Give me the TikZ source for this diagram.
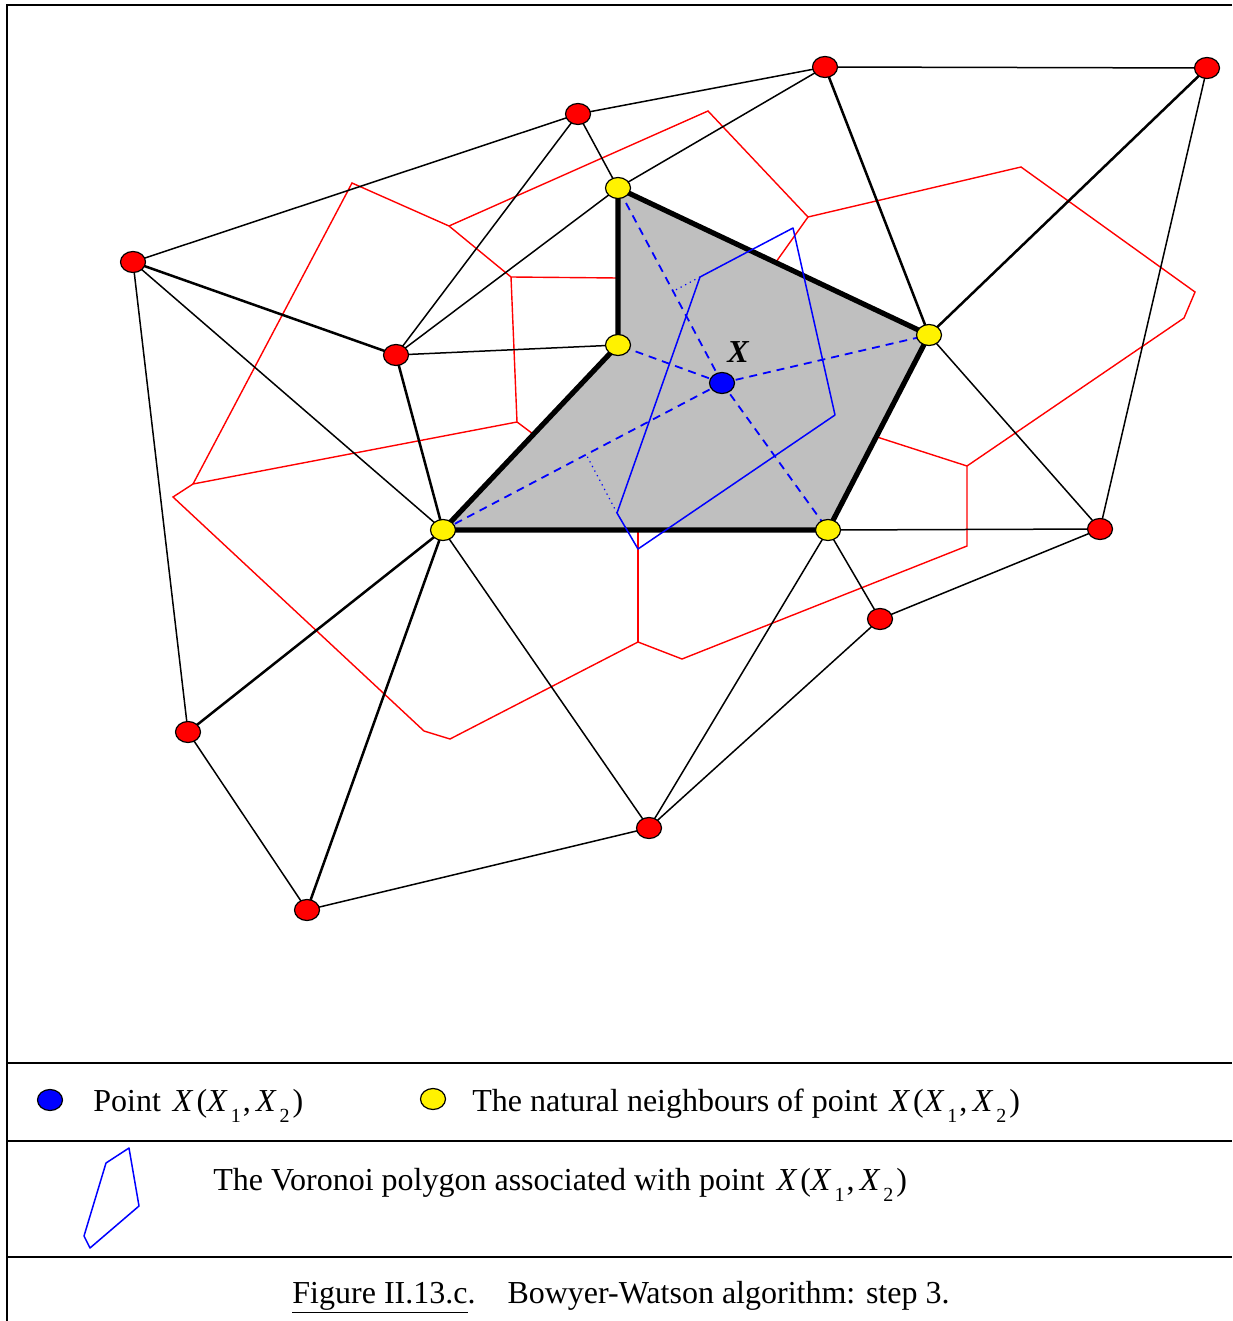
\documentclass[tikz,border=0pt]{standalone}
\usepackage{fontspec}
\setmainfont{Liberation Serif}
\usepackage{tikz}
\usetikzlibrary{shapes.geometric, calc}

\newcommand{\lowix}[1]{\raisebox{-0.35em}{\fontsize{10}{10}\selectfont #1}}
\newcommand{\ptX}{\kern2pt\textit{X}\kern1.5pt(\textit{X}\kern1.5pt\lowix{1}\kern1pt,\,\textit{X}\kern1.5pt\lowix{2}\kern1.5pt)}

\begin{document}
\begin{tikzpicture}[x=0.5pt, y=-0.5pt,
  site/.style={ellipse, draw=black, line width=0.6pt, minimum width=12.5pt, minimum height=10.5pt, inner sep=0pt},
  oldsite/.style={site, fill=red},
  neighbour/.style={site, fill=yellow},
  newsite/.style={site, fill=blue},
  edge/.style={line width=0.75pt},
  mainedge/.style={line width=1.25pt},
  cavity/.style={line width=2.6pt, line join=round},
  voronoi/.style={red, line width=0.7pt},
  cell/.style={blue, line width=0.75pt, line join=round},
  link/.style={blue, line width=0.9pt, dash pattern=on 4pt off 3pt},
  foot/.style={blue, line width=0.6pt, dotted},
  legend/.style={anchor=base west, inner sep=0pt, font=\fontsize{16}{19}\selectfont}]
  \useasboundingbox (0,0) rectangle (1232,1321);

  % Frame and legend rows
  \draw[line width=1pt] (1232,5) -- (7,5) -- (7,1321);
  \draw[line width=1pt] (7,1063) -- (1232,1063);
  \draw[line width=1pt] (7,1141) -- (1232,1141);
  \draw[line width=1pt] (7,1257) -- (1232,1257);

  % Sites
  \coordinate (r1) at (825,67);
  \coordinate (r2) at (1207,68);
  \coordinate (r3) at (578,114);
  \coordinate (r4) at (133,262);
  \coordinate (r5) at (396,355);
  \coordinate (r6) at (1100,529);
  \coordinate (r7) at (880,619);
  \coordinate (r8) at (188,732);
  \coordinate (r9) at (649,828);
  \coordinate (r10) at (307,910);
  \coordinate (y1) at (618,188);
  \coordinate (y2) at (618,345);
  \coordinate (y3) at (929,335);
  \coordinate (y4) at (443,530);
  \coordinate (y5) at (828,530);
  \coordinate (xp) at (722,383);

  % Voronoi vertices
  \coordinate (v1) at (352,183);
  \coordinate (v2) at (449,226);
  \coordinate (v3) at (511,277);
  \coordinate (v4) at (517,422);
  \coordinate (v5) at (193,484);
  \coordinate (v6) at (173,497);
  \coordinate (v7) at (424,731);
  \coordinate (v8) at (450,739);
  \coordinate (v9) at (638,642);
  \coordinate (v10) at (682,659);
  \coordinate (v11) at (967,546);
  \coordinate (v12) at (967,466);
  \coordinate (v13) at (1184,318);
  \coordinate (v14) at (1195,292);
  \coordinate (v15) at (1021,167);
  \coordinate (v16) at (808,217);
  \coordinate (v17) at (708,111);
  \coordinate (e1) at (618,278);
  \coordinate (e2) at (533,434);
  \coordinate (e3) at (638,531);
  \coordinate (e4) at (877,437);
  \coordinate (e5) at (776,262);

  % Cell of X
  \coordinate (c1) at (700,277);
  \coordinate (c2) at (793,228);
  \coordinate (c3) at (835,415);
  \coordinate (c4) at (638,549);
  \coordinate (c5) at (617,513);

  % Cavity
  \fill[black!25] (y1) -- (y3) -- (y5) -- (y4) -- (y2) -- cycle;

  % Old Voronoi diagram
  \draw[voronoi] (e1) -- (v3) -- (v2) -- (v1) -- (v5) -- (v4) -- (v3);
  \draw[voronoi] (v4) -- (e2);
  \draw[voronoi] (v5) -- (v6) -- (v7) -- (v8) -- (v9) -- (v10) -- (v11) -- (v12)
    -- (v13) -- (v14) -- (v15) -- (v16) -- (v17) -- (v2);
  \draw[voronoi] (v9) -- (e3);
  \draw[voronoi] (v12) -- (e4);
  \draw[voronoi] (v16) -- (e5);

  % Triangulation
  \foreach \a/\b in {r3/r1, r1/r2, r4/r3, r3/y1, r3/r5, r1/y1, r2/r6, r4/y4, r4/r8,
      r5/y1, r5/y2, y3/r6, y5/r6, y5/r7, r7/r6, r7/r9, y5/r9, y4/r9, r8/r10, r10/r9}
    \draw[edge] (\a) -- (\b);
  \foreach \a/\b in {r4/r5, r1/y3, r2/y3, r5/y4, y4/r8, y4/r10}
    \draw[mainedge] (\a) -- (\b);
  \draw[cavity] (y1) -- (y3) -- (y5) -- (y4) -- (y2) -- cycle;

  % New cell
  \draw[cell] (c1) -- (c2) -- (c3) -- (c4) -- (c5) -- cycle;
  \foreach \n in {y1,y2,y3,y4,y5}
    \draw[link] (xp) -- (\n);
  \draw[foot] (c1) -- ($(xp)!(c1)!(y1)$);
  \draw[foot] (c5) -- ($(xp)!(c5)!(y4)$);

  % Points
  \foreach \n in {r1,r2,r3,r4,r5,r6,r7,r8,r9,r10}
    \node[oldsite] (\n-dot) at (\n) {};
  \foreach \n in {y1,y2,y3,y4,y5}
    \node[neighbour] (\n-dot) at (\n) {};
  \node[newsite] (xp-dot) at (xp) {};
  \node[font=\fontsize{16}{19}\selectfont\bfseries\itshape, inner sep=0pt] (xlabel) at (738,352) {X};

  % Legend
  \node[newsite] (keyx) at (50,1100) {};
  \node[legend] (keyxtext) at (93,1111) {Point \ptX};
  \node[neighbour] (keyy) at (433,1099) {};
  \node[legend] (keyytext) at (472,1111) {The natural neighbours of point \ptX};
  \draw[cell] (129,1148) -- (106,1163) -- (84,1236) -- (90,1248) -- (139,1206) -- cycle;
  \node[legend] (keycell) at (213,1190) {The Voronoi polygon associated with point \ptX};

  % Caption
  \node[anchor=base, inner sep=0pt, font=\fontsize{16}{19}\selectfont] (caption) at (621,1303)
    {\underline{Figure II.13.c}.\quad Bowyer-Watson algorithm: step 3.};
\end{tikzpicture}
\end{document}
